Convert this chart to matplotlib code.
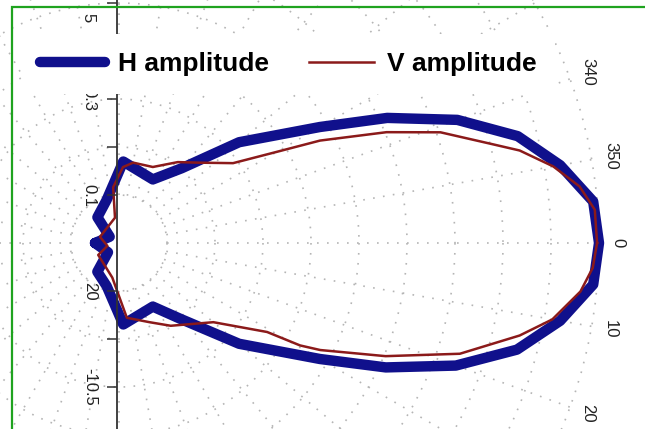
import numpy as np
import matplotlib.pyplot as plt
from matplotlib.patches import Rectangle

plt.rcParams['font.family'] = ['Liberation Sans', 'DejaVu Sans']

# measured pattern, angle in degrees (clockwise from boresight), level in dB
h_angles = [-180, -146, -130, -106, -87, -62, -50, -40, -30, -25, -20, -15, -10, -5, 0,
            5, 10, 15, 20, 25, 30, 40, 51, 62, 87, 106, 127, 140, 180]
h_db = [-28.5, -29.3, -27.9, -27.2, -24.9, -25.5, -23.9, -20.2, -15.5, -11.5, -7.5, -4.2, -2.0, -0.25, 0.0,
        -0.25, -2.0, -4.25, -7.6, -11.6, -15.5, -20.2, -23.9, -25.5, -24.9, -27.2, -27.75, -29.1, -28.5]

v_angles = [0, -4, -7, -10, -13, -15, -19, -22.5, -27, -30, -35, -45, -54, -66, -80, -87, -96, -99,
            -162, 166, 150, 101, 84, 69, 58, 40, 31, 29.5, 28, 23, 18, 13, 10, 6, 3, 0]
v_db = [-0.12, -0.19, -1.0, -2.44, -4.3, -6.0, -8.75, -11.9, -15.9, -18.6, -21.3, -22.9, -23.75, -24.8,
        -24.9, -25.25, -26.5, -28.4, -28.75, -29.25, -28.5, -27.8, -25.3, -24.7, -23.9, -22.3, -19.2,
        -17.0, -15.75, -11.9, -7.6, -4.3, -2.5, -1.0, -0.35, -0.12]

theta_label_angles = [340, 350, 0, 10, 20]
theta_labels = ['340', '350', '0', '10', '20']

r_ticks = [-15, -12, -9, -6, -3, 3, 6, 9, 12, 15]
r_tick_labels = ['', '', '-10.5', '', '20', '0.1', '', '0.3', '', '']
top_label = '5'

W, H = 645, 429
cx, cy = 119, 186      # centre of the pattern (pixels from bottom-left)
R = 496                # pixel radius of the -30..+1 dB range
grid_kw = dict(color='#b5b5b5', linestyle=(0, (1, 5)), linewidth=1.2)

fig = plt.figure(figsize=(W / 100, H / 100), dpi=100)
fig.patch.set_facecolor('white')

ax = fig.add_axes([(cx - R) / W, (cy - R) / H, 2 * R / W, 2 * R / H], projection='polar')
ax.set_theta_zero_location('E')
ax.set_theta_direction(-1)
ax.set_rlim(-30, 1)
ax.set_xticks([])
ax.set_yticks(np.arange(-27, 1, 3))
ax.set_yticklabels([])
ax.grid(True, axis='y', **grid_kw)
ax.spines['polar'].set_visible(False)

# spokes every 10 degrees, starting at the first ring
for a in np.arange(0, 360, 10):
    ax.plot([np.deg2rad(a)] * 2, [-27, 0], zorder=1, **grid_kw)

h_line, = ax.plot(np.deg2rad(h_angles), h_db, color='#10108c', lw=7.5,
                  solid_joinstyle='round', solid_capstyle='round', zorder=3)
v_line, = ax.plot(np.deg2rad(v_angles), v_db, color='#8b1a1a', lw=1.8, zorder=4)
ax.set_rlim(-30, 1)

for a, lab in zip(theta_label_angles, theta_labels):
    ax.text(np.deg2rad(a), 1.2, lab, rotation=270, ha='center', va='center',
            fontsize=12, color='#222222')

# radial scale drawn as a plain vertical axis through the centre
ax2 = fig.add_axes([117 / W, (cy - R) / H, 0.001, 2 * R / H])
ax2.set_ylim(-31, 31)
ax2.patch.set_visible(False)
for s in ['right', 'top', 'bottom']:
    ax2.spines[s].set_visible(False)
ax2.spines['left'].set_color('#333333')
ax2.spines['left'].set_linewidth(1.3)
ax2.set_xticks([])
ax2.set_yticks(r_ticks)
ax2.set_yticklabels(r_tick_labels)
ax2.tick_params(axis='y', direction='out', length=7.5, width=1.1, color='#333333',
                labelsize=12, labelrotation=270, pad=7, labelcolor='#222222')
plt.setp(ax2.get_yticklabels(), va='center')
ax2.annotate(top_label, xy=(0, 14.1), xycoords=('axes fraction', 'data'),
             xytext=(-21, 0), textcoords='offset points', rotation=270,
             ha='center', va='center', fontsize=12, color='#222222')

leg = fig.legend([h_line, v_line], ['H amplitude', 'V amplitude'], loc='center left',
                 bbox_to_anchor=(22 / W, 1 - 64 / H), ncol=2, frameon=True, fancybox=False,
                 facecolor='white', edgecolor='none', framealpha=1, borderpad=0.7,
                 borderaxespad=0, handlelength=2.45, handletextpad=0.5, columnspacing=1.5,
                 prop={'weight': 'bold', 'size': 19})

fig.patches.append(Rectangle((12 / W, -0.05), 1.0, 1.05 - 7 / H, transform=fig.transFigure,
                             fill=False, edgecolor='#1fa31f', linewidth=1.6, zorder=10))

fig.savefig('out.png', dpi=100)
